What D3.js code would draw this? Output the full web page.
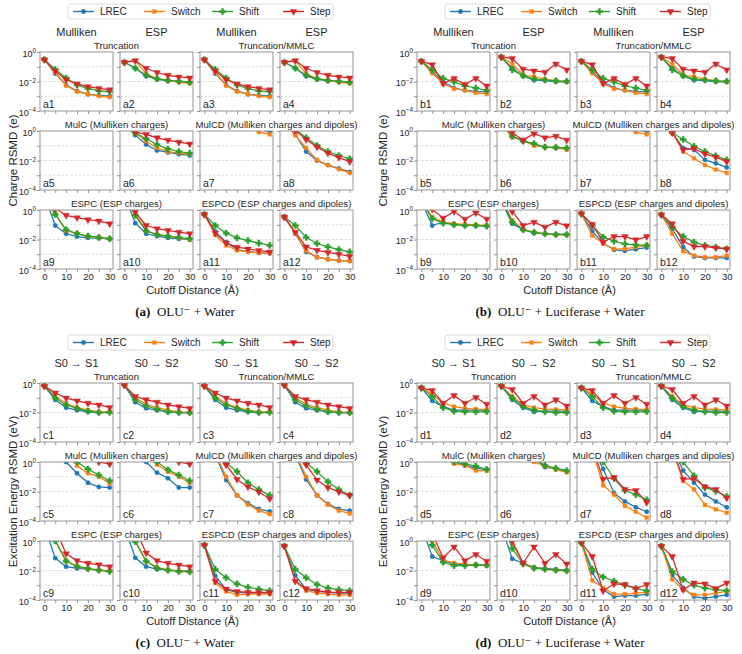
<!DOCTYPE html>
<html><head><meta charset="utf-8">
<script src="https://cdn.jsdelivr.net/npm/d3@7"></script>
<style>body{margin:0;background:#fff}svg{display:block}</style>
</head><body>
<svg id="chart" width="742" height="654"></svg>
<script>
// ---------- data (log10 of RMSD) ----------
const cutoffs = [0, 5, 10, 15, 20, 25, 30];
const seriesNames = ["LREC", "Switch", "Shift", "Step"];
const seriesColors = ["#1f77b4", "#ff7f0e", "#2ca02c", "#d62728"];
const xTickValues = [0, 5, 10, 15, 20, 25, 30];
const xTickLabels = ["0", "", "10", "", "20", "", "30"];
const yTickExps = [0, -1, -2, -3, -4];
const yTickLabelExps = ["0", "", "\u22122", "", "\u22124"];

// Panel (a) charge RSMD, OLU- + water   [LREC, Switch, Shift, Step]
const pa1 = [[-0.52,-1.46,-2.24,-2.64,-2.87,-2.94,-2.99],[-0.52,-1.39,-2.28,-2.68,-2.85,-2.99,-3.06],[-0.52,-1.18,-1.76,-2.24,-2.47,-2.64,-2.68],[-0.52,-1.29,-1.88,-2.16,-2.35,-2.47,-2.56]];
const pa2 = [[-0.7,-1.1,-1.62,-1.86,-1.95,-2.0,-2.09],[-0.7,-0.59,-1.46,-1.81,-1.93,-2.05,-2.12],[-0.7,-1.1,-1.58,-1.81,-1.93,-1.98,-2.05],[-0.7,-0.59,-1.1,-1.39,-1.58,-1.69,-1.76]];
const pa3 = [[-0.52,-1.46,-2.24,-2.64,-2.87,-2.94,-2.99],[-0.52,-1.39,-2.28,-2.68,-2.85,-2.99,-3.06],[-0.52,-1.18,-1.76,-2.24,-2.47,-2.64,-2.68],[-0.52,-1.29,-1.88,-2.16,-2.35,-2.47,-2.56]];
const pa4 = [[-0.7,-1.1,-1.62,-1.86,-1.95,-2.0,-2.09],[-0.7,-0.59,-1.46,-1.81,-1.93,-2.05,-2.12],[-0.7,-1.1,-1.58,-1.81,-1.93,-1.98,-2.05],[-0.7,-0.59,-1.1,-1.39,-1.58,-1.69,-1.76]];
const pa5 = [[1.2,1.0,0.8,0.6,0.5,0.4,0.3],[1.2,1.0,0.8,0.6,0.5,0.4,0.3],[1.3,1.1,0.9,0.7,0.6,0.5,0.4],[1.5,1.3,1.1,0.9,0.8,0.7,0.6]];
const pa6 = [[0.5,-0.28,-0.92,-1.32,-1.45,-1.57,-1.66],[0.5,-0.12,-0.69,-1.15,-1.39,-1.5,-1.57],[0.5,-0.12,-0.53,-0.92,-1.22,-1.39,-1.5],[0.6,-0.07,-0.23,-0.46,-0.62,-0.76,-0.88]];
const pa7 = [[0.9,0.8,0.7,0.5,0.3,0.1,-0.05],[0.9,0.8,0.7,0.5,0.3,-0.07,-0.23],[1.0,0.9,0.8,0.7,0.5,0.3,0.2],[1.0,0.9,0.8,0.7,0.5,0.35,0.25]];
const pa8 = [[0.6,-0.23,-1.39,-2.0,-2.31,-2.54,-2.77],[0.6,-0.3,-1.15,-1.96,-2.31,-2.59,-2.84],[0.7,0.1,-0.46,-0.99,-1.39,-1.66,-1.89],[0.7,0.05,-0.58,-1.09,-1.5,-1.8,-2.08]];
const pa9 = [[1.0,-1.05,-1.61,-1.8,-1.89,-1.9,-1.95],[0.8,-0.25,-1.4,-1.6,-1.8,-1.86,-1.95],[0.8,-0.3,-1.34,-1.6,-1.77,-1.86,-1.95],[1.0,0.1,-0.36,-0.52,-0.66,-0.75,-0.93]];
const pa10 = [[1.0,-0.89,-1.61,-1.77,-1.89,-1.95,-2.0],[1.0,-0.25,-1.39,-1.66,-1.77,-1.89,-2.0],[1.0,-0.36,-1.43,-1.66,-1.77,-1.86,-1.95],[1.2,-0.14,-1.05,-1.27,-1.39,-1.5,-1.6]];
const pa11 = [[-0.3,-1.45,-2.18,-2.7,-2.8,-2.9,-2.93],[-0.3,-1.7,-2.4,-2.73,-2.84,-2.9,-2.93],[-0.3,-1.05,-1.57,-1.89,-2.07,-2.25,-2.4],[-0.3,-1.57,-2.23,-2.52,-2.64,-2.75,-2.84]];
const pa12 = [[-0.48,-1.57,-2.84,-3.2,-3.34,-3.43,-3.45],[-0.48,-1.6,-2.77,-3.2,-3.34,-3.43,-3.47],[-0.48,-1.05,-1.86,-2.27,-2.5,-2.68,-2.84],[-0.48,-1.5,-2.5,-2.73,-2.88,-3.0,-3.14]];

// Panel (b) charge RSMD, OLU- + luciferase + water
const pb1 = [[-0.63,-1.33,-2.02,-2.44,-2.6,-2.67,-2.72],[-0.63,-1.44,-2.14,-2.49,-2.6,-2.77,-2.84],[-0.63,-1.21,-1.79,-2.02,-2.3,-2.44,-2.6],[-0.63,-0.86,-2.14,-1.79,-2.2,-1.79,-2.3]];
const pb2 = [[-0.35,-1.1,-1.63,-1.9,-1.92,-2.02,-2.02],[-0.35,-0.81,-1.56,-1.67,-1.84,-1.95,-2.02],[-0.35,-1.21,-1.6,-1.84,-1.9,-1.95,-1.98],[-0.35,-0.44,-1.16,-1.28,-1.37,-0.81,-1.21]];
const pb3 = [[-0.63,-1.33,-2.02,-2.44,-2.6,-2.67,-2.72],[-0.63,-1.44,-2.14,-2.49,-2.6,-2.77,-2.84],[-0.63,-1.21,-1.79,-2.02,-2.3,-2.44,-2.6],[-0.63,-0.86,-2.14,-1.79,-2.2,-1.79,-2.3]];
const pb4 = [[-0.35,-1.1,-1.63,-1.9,-1.92,-2.02,-2.02],[-0.35,-0.81,-1.56,-1.67,-1.84,-1.95,-2.02],[-0.35,-1.21,-1.6,-1.84,-1.9,-1.95,-1.98],[-0.35,-0.44,-1.16,-1.28,-1.37,-0.81,-1.21]];
const pb5 = [[1.2,1.0,0.8,0.6,0.5,0.4,0.3],[1.2,1.0,0.8,0.6,0.5,0.4,0.3],[1.3,1.1,0.9,0.7,0.6,0.5,0.4],[1.5,1.3,1.1,0.9,0.8,0.7,0.6]];
const pb6 = [[0.5,-0.39,-0.65,-0.92,-1.09,-1.15,-1.2],[0.5,-0.42,-0.62,-0.99,-1.09,-1.11,-1.27],[0.5,-0.35,-0.69,-0.85,-1.09,-1.11,-1.15],[0.5,-0.1,-0.62,-0.18,-0.46,-0.35,-0.62]];
const pb7 = [[0.9,0.8,0.7,0.5,0.3,0.1,-0.05],[0.9,0.8,0.7,0.5,0.3,-0.07,-0.23],[1.0,0.9,0.8,0.7,0.5,0.3,0.2],[1.0,0.9,0.8,0.7,0.5,0.35,0.25]];
const pb8 = [[0.4,-0.12,-1.15,-1.27,-1.96,-2.19,-2.47],[0.4,-0.12,-1.39,-1.85,-2.31,-2.61,-2.84],[0.4,-0.12,-0.58,-1.04,-1.39,-1.69,-1.96],[0.4,-0.12,-1.27,-1.2,-1.55,-1.78,-2.08]];
const pb9 = [[0.6,-1.05,-0.82,-0.98,-1.05,-1.05,-1.09],[0.6,-0.48,-0.82,-0.93,-0.98,-1.0,-1.05],[0.6,-0.59,-0.89,-1.0,-1.05,-1.05,-1.09],[0.8,0.05,-0.55,-0.1,-0.62,-0.2,-0.62]];
const pb10 = [[0.6,-0.93,-1.34,-1.55,-1.61,-1.66,-1.66],[0.8,-0.7,-1.34,-1.5,-1.61,-1.68,-1.7],[0.8,-0.82,-1.34,-1.52,-1.61,-1.66,-1.66],[1.0,-0.1,-1.05,-0.82,-1.16,-0.82,-1.07]];
const pb11 = [[-0.25,-1.43,-2.25,-2.7,-2.77,-2.66,-2.55],[-0.25,-1.73,-2.27,-2.64,-2.64,-2.52,-2.4],[-0.25,-1.05,-1.84,-2.11,-2.3,-2.36,-2.4],[-0.25,-0.98,-2.18,-1.8,-1.8,-2.02,-1.8]];
const pb12 = [[-0.32,-1.27,-2.52,-3.16,-3.25,-3.25,-3.25],[-0.32,-1.6,-2.8,-3.09,-3.2,-3.2,-3.09],[-0.32,-1.16,-1.8,-2.18,-2.4,-2.52,-2.64],[-0.32,-0.93,-2.11,-2.48,-2.48,-2.57,-2.64]];

// Panel (c) excitation energy RSMD, OLU- + water
const pc1 = [[-0.21,-1.14,-1.67,-1.84,-1.95,-2.0,-1.95],[-0.21,-0.91,-1.37,-1.67,-1.84,-1.95,-1.95],[-0.21,-1.02,-1.49,-1.72,-1.91,-2.0,-2.0],[-0.21,-0.67,-1.02,-1.21,-1.37,-1.49,-1.65]];
const pc2 = [[-0.14,-1.3,-1.72,-1.84,-1.95,-2.0,-2.0],[-0.14,-1.02,-1.44,-1.67,-1.84,-1.95,-2.0],[-0.14,-1.14,-1.56,-1.77,-1.95,-2.0,-2.02],[-0.14,-0.91,-1.14,-1.3,-1.49,-1.6,-1.72]];
const pc3 = [[-0.21,-1.14,-1.67,-1.84,-1.95,-2.0,-1.95],[-0.21,-0.91,-1.37,-1.67,-1.84,-1.95,-1.95],[-0.21,-1.02,-1.49,-1.72,-1.91,-2.0,-2.0],[-0.21,-0.67,-1.02,-1.21,-1.37,-1.49,-1.65]];
const pc4 = [[-0.14,-1.3,-1.72,-1.84,-1.95,-2.0,-2.0],[-0.14,-1.02,-1.44,-1.67,-1.84,-1.95,-2.0],[-0.14,-1.14,-1.56,-1.77,-1.95,-2.0,-2.02],[-0.14,-0.91,-1.14,-1.3,-1.49,-1.6,-1.72]];
const pc5 = [[1.5,1.0,0.0,-0.76,-1.41,-1.69,-1.73],[1.5,1.2,0.6,-0.25,-0.76,-0.99,-1.45],[1.5,1.2,0.6,0.0,-0.48,-0.88,-1.27],[2.0,1.6,1.2,0.8,0.3,0.0,-0.14]];
const pc6 = [[1.5,1.0,0.0,-0.72,-1.1,-1.73,-1.73],[1.5,1.2,0.6,-0.18,-0.65,-0.99,-1.41],[1.5,1.2,0.6,0.0,-0.53,-0.88,-1.27],[2.0,1.6,1.2,0.8,0.3,0.0,-0.14]];
const pc7 = [[1.5,0.5,-1.22,-2.26,-2.79,-3.19,-3.35],[1.5,0.6,-0.99,-2.26,-2.89,-3.3,-3.53],[2.0,1.2,-0.07,-0.65,-1.41,-1.87,-2.26],[2.0,1.0,-0.2,-1.18,-1.69,-2.03,-2.49]];
const pc8 = [[1.5,0.5,-1.18,-2.26,-2.84,-3.19,-3.3],[1.5,0.6,-0.99,-2.26,-2.89,-3.3,-3.49],[2.0,1.2,-0.07,-0.65,-1.34,-1.87,-2.26],[2.0,1.0,-0.2,-1.22,-1.73,-2.03,-2.26]];
const pc9 = [[1.0,-1.16,-1.74,-1.86,-1.91,-1.98,-2.02],[1.5,0.05,-1.33,-1.74,-1.91,-1.98,-2.02],[1.5,0.0,-1.37,-1.72,-1.86,-1.98,-2.07],[2.0,0.8,-0.86,-1.33,-1.51,-1.6,-1.74]];
const pc10 = [[1.0,-1.14,-1.74,-1.91,-1.98,-2.02,-2.02],[1.5,0.05,-1.37,-1.79,-1.95,-2.02,-2.07],[1.5,-0.05,-1.37,-1.84,-1.98,-2.07,-2.09],[2.0,0.8,-0.81,-1.33,-1.51,-1.63,-1.74]];
const pc11 = [[-0.28,-2.37,-3.3,-3.49,-3.53,-3.53,-3.53],[-0.28,-2.84,-3.42,-3.65,-3.6,-3.6,-3.6],[-0.28,-1.91,-2.49,-2.91,-3.14,-3.26,-3.37],[-0.28,-2.72,-3.26,-3.42,-3.49,-3.49,-3.49]];
const pc12 = [[-0.35,-2.33,-3.26,-3.42,-3.49,-3.53,-3.53],[-0.35,-2.72,-3.37,-3.53,-3.6,-3.65,-3.65],[-0.35,-1.91,-2.49,-2.95,-3.19,-3.3,-3.37],[-0.35,-2.72,-3.23,-3.37,-3.47,-3.49,-3.49]];

// Panel (d) excitation energy RSMD, OLU- + luciferase + water
const pd1 = [[-0.33,-1.21,-1.6,-1.84,-1.84,-1.84,-1.84],[-0.33,-0.74,-1.37,-1.6,-1.72,-1.77,-1.79],[-0.33,-0.91,-1.67,-1.91,-1.95,-1.95,-1.95],[-0.33,-0.51,-1.37,-0.84,-1.37,-0.98,-1.44]];
const pd2 = [[-0.21,-1.14,-1.67,-1.95,-1.91,-1.91,-1.91],[-0.21,-0.91,-1.49,-1.67,-1.77,-1.79,-1.84],[-0.21,-1.02,-1.6,-1.84,-1.95,-2.0,-2.0],[-0.21,-0.44,-1.37,-0.91,-1.49,-1.14,-1.56]];
const pd3 = [[-0.33,-1.21,-1.6,-1.84,-1.84,-1.84,-1.84],[-0.33,-0.74,-1.37,-1.6,-1.72,-1.77,-1.79],[-0.33,-0.91,-1.67,-1.91,-1.95,-1.95,-1.95],[-0.33,-0.51,-1.37,-0.84,-1.37,-0.98,-1.44]];
const pd4 = [[-0.21,-1.14,-1.67,-1.95,-1.91,-1.91,-1.91],[-0.21,-0.91,-1.49,-1.67,-1.77,-1.79,-1.84],[-0.21,-1.02,-1.6,-1.84,-1.95,-2.0,-2.0],[-0.21,-0.44,-1.37,-0.91,-1.49,-1.14,-1.56]];
const pd5 = [[1.5,1.0,0.5,0.0,-0.23,-0.42,-0.51],[1.5,1.0,0.5,-0.12,-0.23,-0.58,-0.58],[1.5,1.0,0.5,0.0,-0.12,-0.28,-0.51],[2.0,1.8,1.6,1.4,1.2,1.0,0.8]];
const pd6 = [[1.5,1.2,0.8,0.3,-0.35,-0.47,-0.65],[1.5,1.2,0.8,0.0,-0.28,-0.51,-0.7],[1.5,1.2,0.8,0.3,-0.23,-0.42,-0.58],[2.0,1.8,1.6,1.4,1.2,1.0,0.8]];
const pd7 = [[2.0,1.0,-0.47,-2.1,-2.67,-3.07,-3.37],[2.0,0.8,-1.58,-2.21,-2.98,-3.37,-3.77],[2.0,1.2,0.0,-1.12,-1.93,-2.21,-2.56],[2.0,1.0,-1.16,-1.05,-1.86,-1.93,-2.74]];
const pd8 = [[2.0,1.0,-0.58,-1.4,-2.21,-2.67,-3.07],[2.0,0.8,-1.28,-1.86,-2.91,-3.21,-3.44],[2.0,1.2,0.0,-0.93,-1.74,-1.98,-2.33],[2.0,1.0,-1.16,-1.12,-1.67,-1.86,-2.44]];
const pd9 = [[1.0,-1.05,-1.33,-1.56,-1.6,-1.6,-1.67],[1.5,0.0,-1.28,-1.49,-1.56,-1.63,-1.67],[1.5,-0.28,-1.44,-1.67,-1.67,-1.63,-1.63],[2.0,0.5,-1.14,-0.4,-1.33,-0.91,-1.37]];
const pd10 = [[1.0,-1.21,-1.51,-1.79,-1.86,-1.93,-1.98],[1.5,-0.16,-1.49,-1.79,-1.91,-1.95,-2.02],[1.5,-0.51,-1.56,-1.84,-1.91,-1.98,-2.02],[1.5,0.0,-1.49,-0.4,-1.51,-0.91,-1.56]];
const pd11 = [[-0.12,-2.14,-3.3,-3.77,-3.7,-3.7,-3.6],[-0.12,-2.67,-3.19,-3.6,-3.6,-3.53,-3.47],[-0.12,-1.91,-2.44,-2.72,-3.0,-3.23,-3.37],[-0.12,-1.05,-3.37,-2.91,-2.95,-3.23,-2.95]];
const pd12 = [[-0.35,-2.3,-3.19,-3.77,-3.88,-3.77,-3.65],[-0.35,-2.6,-3.3,-3.65,-3.65,-3.53,-3.42],[-0.35,-2.07,-2.6,-3.0,-3.19,-3.3,-3.37],[-0.35,-1.05,-3.3,-2.84,-2.91,-3.23,-2.84]];

// ---------- texts ----------
const chargeHeads = ["Mulliken", "ESP", "Mulliken", "ESP"];
const excitHeads = ["S0 \u2192 S1", "S0 \u2192 S2", "S0 \u2192 S1", "S0 \u2192 S2"];
const rowTitles = [["Truncation", "Truncation/MMLC"], ["MulC (Mulliken charges)", "MulCD (Mulliken charges and dipoles)"], ["ESPC (ESP charges)", "ESPCD (ESP charges and dipoles)"]];
const yLabels = ["Charge RSMD (e)", "Excitation Energy RSMD (eV)"];
const xLabel = "Cutoff Distance (\u00c5)";
const captionTags = ["(a)", "(b)", "(c)", "(d)"];
const captionTexts = ["OLU\u207b + Water", "OLU\u207b + Luciferase + Water", "OLU\u207b + Water", "OLU\u207b + Luciferase + Water"];

// ---------- layout ----------
const SW = 73, SH = 59;
const colLefts = [40, 120, 200, 280];
const rowTops = [52, 131, 210];
const panels = [
  {tag: 0, ox: 0,   oy: 0,   ylab: 0, heads: chargeHeads, subs: [pa1,pa2,pa3,pa4,pa5,pa6,pa7,pa8,pa9,pa10,pa11,pa12], pre: "a", ylx: 13,  capx: 185},
  {tag: 1, ox: 377, oy: 0,   ylab: 0, heads: chargeHeads, subs: [pb1,pb2,pb3,pb4,pb5,pb6,pb7,pb8,pb9,pb10,pb11,pb12], pre: "b", ylx: 383, capx: 560},
  {tag: 2, ox: 0,   oy: 331, ylab: 1, heads: excitHeads,  subs: [pc1,pc2,pc3,pc4,pc5,pc6,pc7,pc8,pc9,pc10,pc11,pc12], pre: "c", ylx: 13,  capx: 185},
  {tag: 3, ox: 377, oy: 331, ylab: 1, heads: excitHeads,  subs: [pd1,pd2,pd3,pd4,pd5,pd6,pd7,pd8,pd9,pd10,pd11,pd12], pre: "d", ylx: 383, capx: 560}
];

const FONT = "'Liberation Sans', Arial, Helvetica, sans-serif";
const SERIF = "'Liberation Serif', 'DejaVu Serif', serif";
const TXT = "#262626";
const svg = d3.select("#chart");
const defs = svg.append("defs");

const markerSymbols = [
  d3.symbol().type(d3.symbolCircle).size(15),
  d3.symbol().type(d3.symbolSquare).size(14),
  d3.symbol().type(d3.symbolCross).size(21),
  d3.symbol().type(d3.symbolTriangle).size(20)
];
const markerRotate = [0, 0, 0, 180];

function drawMarker(g, si, cx, cy) {
  g.append("path").attr("d", markerSymbols[si]())
    .attr("transform", `translate(${cx},${cy}) rotate(${markerRotate[si]})`)
    .attr("fill", seriesColors[si]).attr("stroke", seriesColors[si]).attr("stroke-width", 0.4);
}

let clipId = 0;
panels.forEach(p => {
  const g = svg.append("g");
  const lefts = colLefts.map(v => v + p.ox);
  const tops = rowTops.map(v => v + p.oy);
  const areaL = lefts[0], areaR = lefts[3] + SW;

  // legend
  const lgW = 265, lgH = 15;
  const lgX = (areaL + areaR) / 2 + 4 - lgW / 2, lgY = 4 + p.oy;
  g.append("rect").attr("x", lgX).attr("y", lgY).attr("width", lgW).attr("height", lgH)
    .attr("rx", 2).attr("fill", "#fff").attr("stroke", "#d0d0d0").attr("stroke-width", 0.8);
  const lgOff = [5, 76, 144, 215];
  seriesNames.forEach((name, si) => {
    const lx = lgX + lgOff[si], ly = lgY + lgH / 2;
    g.append("line").attr("x1", lx).attr("x2", lx + 21).attr("y1", ly).attr("y2", ly)
      .attr("stroke", seriesColors[si]).attr("stroke-width", 1.4);
    drawMarker(g, si, lx + 10.5, ly);
    g.append("text").attr("x", lx + 27).attr("y", ly + 3.6).text(name)
      .attr("font-family", FONT).attr("font-size", 10).attr("fill", TXT);
  });

  // column headers
  p.heads.forEach((h, c) => {
    g.append("text").attr("x", lefts[c] + SW / 2).attr("y", 36 + p.oy).attr("text-anchor", "middle")
      .attr("font-family", FONT).attr("font-size", 11).attr("fill", TXT).text(h);
  });

  // row titles
  rowTitles.forEach((pair, r) => {
    pair.forEach((t, k) => {
      const cx = (lefts[2 * k] + lefts[2 * k + 1] + SW) / 2;
      g.append("text").attr("x", cx).attr("y", tops[r] - 3).attr("text-anchor", "middle")
        .attr("font-family", FONT).attr("font-size", 9.6).attr("fill", TXT).text(t);
    });
  });

  // subplots
  p.subs.forEach((sub, i) => {
    const r = Math.floor(i / 4), c = i % 4;
    const x0 = lefts[c], y0 = tops[r];
    const x = d3.scaleLinear().domain([-2, 31.5]).range([x0, x0 + SW]);
    const y = d3.scaleLog().domain([1e-4, 1]).range([y0 + SH, y0]);
    const sg = g.append("g");

    // grid
    [1e-1, 1e-2, 1e-3].forEach(v => {
      sg.append("line").attr("x1", x0).attr("x2", x0 + SW).attr("y1", y(v)).attr("y2", y(v))
        .attr("stroke", "#cccccc").attr("stroke-width", 0.7).attr("stroke-dasharray", "2.5,1.8");
    });

    // axes (ticks)
    const yAxis = d3.axisLeft(y).tickValues(yTickExps.map(e => Math.pow(10, e))).tickSize(3).tickPadding(2).tickFormat(() => "");
    const ya = sg.append("g").attr("transform", `translate(${x0},0)`).call(yAxis);
    const xAxis = d3.axisBottom(x).tickValues(xTickValues).tickSize(3).tickPadding(1.5)
      .tickFormat((d, k) => r === 2 ? xTickLabels[k] : "");
    const xa = sg.append("g").attr("transform", `translate(0,${y0 + SH})`).call(xAxis);
    [ya, xa].forEach(a => {
      a.select(".domain").remove();
      a.selectAll("line").attr("stroke", "#777").attr("stroke-width", 0.8);
      a.selectAll("text").attr("font-family", FONT).attr("font-size", 9.5).attr("fill", TXT);
    });
    if (c === 0) {
      ya.selectAll(".tick text").each(function (d, k) {
        const lab = yTickLabelExps[k];
        if (!lab) return;
        const t = d3.select(this).attr("font-size", 9).attr("dy", "0.45em").attr("x", -4);
        t.append("tspan").text("10");
        t.append("tspan").attr("dy", "-0.55em").attr("font-size", 6.3).text(lab);
      });
    }

    // clip
    const id = "clip" + (clipId++);
    defs.append("clipPath").attr("id", id).append("rect")
      .attr("x", x0).attr("y", y0).attr("width", SW).attr("height", SH);
    const pg = sg.append("g").attr("clip-path", `url(#${id})`);

    const line = d3.line().x((d, k) => x(cutoffs[k])).y(d => y(Math.pow(10, d)));
    sub.forEach((vals, si) => {
      pg.append("path").attr("d", line(vals)).attr("fill", "none")
        .attr("stroke", seriesColors[si]).attr("stroke-width", 1.25).attr("stroke-linejoin", "round");
      vals.forEach((v, k) => drawMarker(pg, si, x(cutoffs[k]), y(Math.pow(10, v))));
    });

    // frame
    sg.append("rect").attr("x", x0).attr("y", y0).attr("width", SW).attr("height", SH)
      .attr("fill", "none").attr("stroke", "#8a8a8a").attr("stroke-width", 0.9);

    // subplot label
    sg.append("text").attr("x", x0 + 3).attr("y", y0 + SH - 3.5).text(p.pre + (i + 1))
      .attr("font-family", FONT).attr("font-size", 10.5).attr("fill", TXT);
  });

  // y label
  const ymid = (tops[0] + tops[2] + SH) / 2;
  g.append("text").attr("transform", `translate(${p.ylx + 4},${ymid}) rotate(-90)`)
    .attr("text-anchor", "middle").attr("font-family", FONT).attr("font-size", 11.5)
    .attr("fill", TXT).text(yLabels[p.ylab]);

  // x label
  g.append("text").attr("x", (areaL + areaR) / 2 - 4).attr("y", 294 + p.oy).attr("text-anchor", "middle")
    .attr("font-family", FONT).attr("font-size", 11).attr("fill", TXT).text(xLabel);

  // caption
  const cap = g.append("text").attr("x", p.capx).attr("y", 316 + p.oy).attr("text-anchor", "middle")
    .attr("font-family", SERIF).attr("font-size", 13).attr("fill", "#111");
  cap.append("tspan").attr("font-weight", "bold").text(captionTags[p.tag]);
  cap.append("tspan").text("\u2002" + captionTexts[p.tag]);
});
</script>
</body></html>
